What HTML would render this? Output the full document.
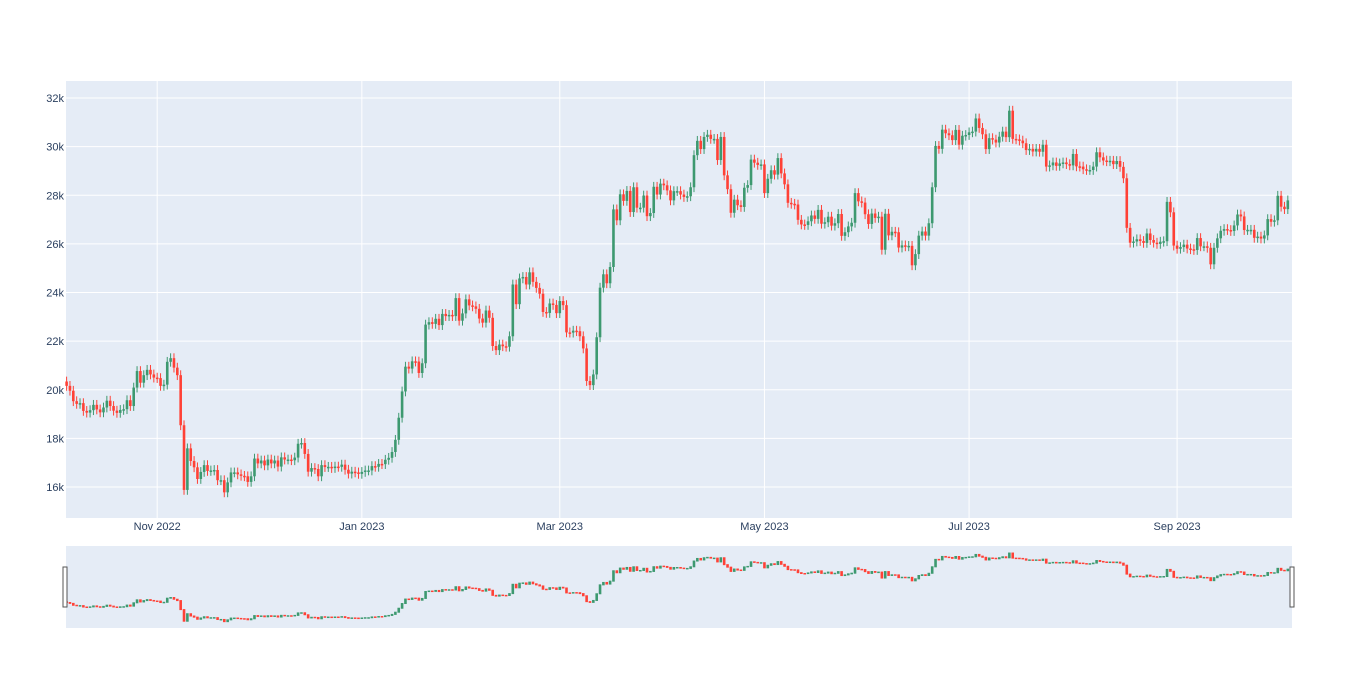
<!DOCTYPE html>
<html><head><meta charset="utf-8"><style>
body{margin:0;background:#fff;font-family:"Liberation Sans",sans-serif}
svg text{font-family:"Liberation Sans",sans-serif;font-size:11px;fill:#2a3f5f}
</style></head><body>
<svg id="chart" width="1358" height="694">
<rect x="66" y="81" width="1226" height="437" fill="#e5ecf6"/>
<g id="grid"></g><g id="marks"></g><g id="ticks"></g>
<rect x="66" y="546" width="1226" height="82" fill="#e5ecf6"/>
<g id="mini"></g>
<rect x="63" y="567" width="4" height="40" fill="#fff" stroke="#555" stroke-width="1"/>
<rect x="1290" y="567" width="4" height="40" fill="#fff" stroke="#555" stroke-width="1"/>
</svg>
<script>
const startDate = "2022-10-05";
const closes = [
20.16,19.96,19.53,19.42,19.45,19.13,19.06,19.16,19.38,19.19,19.07,19.27,19.55,19.33,19.14,19.05,19.17,19.20,19.57,19.33,20.09,20.77,20.29,20.60,20.82,20.63,20.50,
20.48,20.16,20.21,21.15,21.30,20.91,20.60,18.54,15.88,17.59,17.07,16.81,16.33,16.62,16.90,16.66,16.68,16.70,16.28,16.28,15.78,16.19,16.60,16.60,16.52,16.46,16.44,16.21,16.44,17.17,
16.97,17.09,16.89,17.13,16.97,17.09,16.84,17.22,17.13,17.13,17.10,17.21,17.78,17.81,17.36,16.63,16.78,16.74,16.44,16.90,16.82,16.83,16.78,16.84,16.83,16.92,16.71,16.55,16.63,16.60,16.54,
16.62,16.68,16.68,16.86,16.83,16.95,16.94,17.12,17.20,17.44,17.94,18.85,19.93,20.95,20.87,21.17,21.16,20.69,21.09,22.68,22.78,22.71,22.92,22.66,23.12,23.03,23.08,23.03,23.77,22.84,23.14,
23.72,23.47,23.43,23.33,22.93,22.76,23.26,22.96,21.80,21.63,21.86,21.79,21.77,22.20,24.33,23.52,24.58,24.64,24.33,24.83,24.44,24.19,23.95,23.20,23.16,23.55,23.49,23.15,
23.65,23.48,22.36,22.35,22.43,22.41,22.20,21.70,20.36,20.19,20.63,22.16,24.20,24.75,24.38,25.05,27.42,26.97,28.04,27.77,28.18,27.31,28.33,27.49,27.49,27.99,27.14,27.27,28.35,28.03,28.48,
28.41,28.20,27.79,28.17,28.17,28.03,27.93,27.96,28.33,29.65,30.24,29.90,30.40,30.49,30.32,30.32,29.45,30.40,28.82,28.25,27.28,27.82,27.59,27.52,28.31,28.42,29.47,29.34,29.25,29.27,
28.09,28.68,29.03,28.85,29.53,28.90,28.45,27.69,27.65,27.62,26.99,26.80,26.78,26.93,27.17,27.03,27.40,26.83,26.89,27.12,26.75,26.85,27.23,26.33,26.48,26.72,26.87,28.09,27.75,27.70,27.22,
26.82,27.25,27.07,27.12,25.76,27.24,26.35,26.50,26.48,25.85,25.94,25.90,25.92,25.12,25.58,26.34,26.51,26.34,26.85,28.33,30.03,29.91,30.70,30.55,30.47,30.27,30.69,30.08,30.45,30.48,
30.59,30.62,31.16,30.77,30.51,29.90,30.35,30.29,30.17,30.41,30.62,30.39,31.48,30.32,30.30,30.25,30.14,29.86,29.91,29.80,29.91,29.79,30.08,29.18,29.23,29.35,29.21,29.31,29.35,29.28,29.23,
29.70,29.19,29.18,29.07,29.04,29.04,29.18,29.77,29.56,29.43,29.40,29.42,29.28,29.41,29.17,28.70,26.66,26.05,26.10,26.19,26.12,26.04,26.43,26.16,26.05,26.00,26.09,26.11,27.73,27.30,25.93,
25.80,25.87,25.97,25.81,25.78,25.75,26.24,25.90,25.90,25.84,25.16,25.84,26.23,26.54,26.61,26.57,26.53,26.76,27.21,27.13,26.57,26.58,26.58,26.25,26.30,26.22,26.35,27.02,26.91,26.97,
27.98,27.53,27.43,27.79];
const firstOpen = 20.34;
const yTicks = [16,18,20,22,24,26,28,30,32];
const yTickLabels = ["16k","18k","20k","22k","24k","26k","28k","30k","32k"];
const xTickDates = ["2022-11-01","2023-01-01","2023-03-01","2023-05-01","2023-07-01","2023-09-01"];
const xTickLabels = ["Nov 2022","Jan 2023","Mar 2023","May 2023","Jul 2023","Sep 2023"];

const NS="http://www.w3.org/2000/svg";
const DAY=86400000, t0=Date.parse(startDate);
function dayIdx(d){return Math.round((Date.parse(d)-t0)/DAY);}
const pxDay=3.355, xStart=66.6;
function X(i){return xStart+i*pxDay;}
function Y(v){return 487-(v-16)*24.31;}
function Ym(v){return 622-(v-15.7)*4.37;}
function mk(tag,attrs,parent){const e=document.createElementNS(NS,tag);for(const k in attrs)e.setAttribute(k,attrs[k]);parent.appendChild(e);return e;}
const grid=document.getElementById('grid'),ticks=document.getElementById('ticks'),marks=document.getElementById('marks'),mini=document.getElementById('mini');
yTicks.forEach((v,k)=>{
  const l=mk('line',{x1:66,x2:1292,y1:Y(v),y2:Y(v),stroke:'#fff','stroke-width':1},grid);
  
  
  const t=mk('text',{x:64,y:Y(v)+4,'text-anchor':'end'},ticks);t.textContent=yTickLabels[k];
  
  
});
xTickDates.forEach((d,k)=>{
  const x=X(dayIdx(d));
  const l=mk('line',{x1:x,x2:x,y1:81,y2:518,stroke:'#fff','stroke-width':1},grid);
  
  
  const t=mk('text',{x:x,y:530,'text-anchor':'middle'},ticks);t.textContent=xTickLabels[k];
  
  
});
closes.forEach((c,i)=>{
  const o=i===0?firstOpen:closes[i-1];
  const up=c>=o, col=up?'#3D9970':'#FF4136';
  const hi=Math.max(o,c)+0.2, lo=Math.min(o,c)-0.2;
  const x=X(i);
  const g=mk('g',{},marks);
  
  
  mk('line',{x1:x,x2:x,y1:Y(hi),y2:Y(lo),stroke:col,'stroke-width':1},g);
  const y1=Y(Math.max(o,c)),y2=Y(Math.min(o,c));
  mk('rect',{x:x-1.3,y:y1,width:2.6,height:Math.max(1.5,y2-y1),fill:col},g);
  const m=mk('g',{},mini);
  
  
  const m1=Ym(Math.max(o,c)),m2=Ym(Math.min(o,c));
  mk('rect',{x:x-1.3,y:m1-0.5,width:2.6,height:Math.max(1.5,m2-m1+1),fill:col},m);
});
</script>
</body></html>
